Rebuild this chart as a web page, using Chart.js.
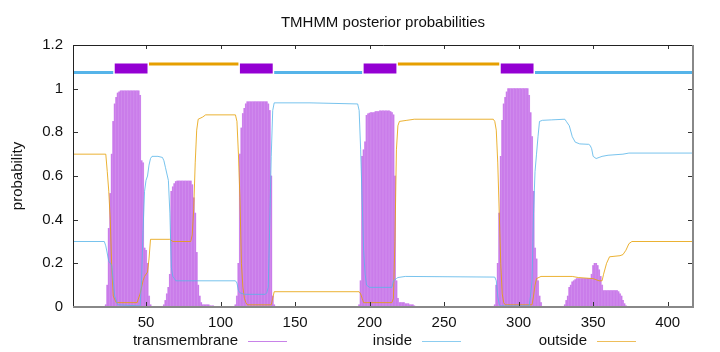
<!DOCTYPE html>
<html>
<head>
<meta charset="utf-8">
<script src="https://cdn.jsdelivr.net/npm/chart.js@4/dist/chart.umd.min.js"></script>
<style>
  body { margin: 0; background: #fff; }
  canvas { display: block; }
</style>
</head>
<body>
<canvas id="tmhmm" width="720" height="352"></canvas>
<script>
// sequence range and ticks
const seqFirst = 1;
const seqLast = 417;
const xTickValues = [50, 100, 150, 200, 250, 300, 350, 400];
const yTickValues = [0, 0.2, 0.4, 0.6, 0.8, 1, 1.2];

const chartTitle = 'TMHMM posterior probabilities';
const legendLabels = ['transmembrane', 'inside', 'outside'];

// transmembrane posterior, one value per residue, grouped by hump (first residue of each group)
const tmStarts = [23, 62, 110, 193, 284, 331];
const tmProbs = [
  [0.01, 0.10, 0.36, 0.52, 0.70, 0.85, 0.93, 0.96, 0.98, 0.985,
   0.99, 0.99, 0.99, 0.99, 0.99, 0.99, 0.99, 0.99, 0.99, 0.99, 0.99, 0.99, 0.99,
   0.97, 0.67, 0.66, 0.27, 0.26, 0.20, 0.05, 0.01],
  [0.01, 0.03, 0.06, 0.09, 0.15, 0.53, 0.55, 0.565, 0.575,
   0.577, 0.577, 0.577, 0.577, 0.577, 0.577, 0.577, 0.577, 0.577, 0.577,
   0.56, 0.50, 0.43, 0.25, 0.10, 0.05, 0.02, 0.01, 0.01, 0.01, 0.01, 0.01, 0.005, 0.005, 0.005],
  [0.01, 0.05, 0.20, 0.70, 0.82, 0.886, 0.91, 0.93,
   0.94, 0.94, 0.94, 0.94, 0.94, 0.94, 0.94, 0.94, 0.94, 0.94, 0.94, 0.94, 0.94, 0.94,
   0.93, 0.90, 0.60, 0.05, 0.01],
  [0.01, 0.12, 0.69, 0.72, 0.756, 0.878, 0.885, 0.888, 0.89, 0.89, 0.89,
   0.895, 0.895, 0.895, 0.898, 0.898, 0.898, 0.898, 0.898, 0.898, 0.898,
   0.895, 0.89, 0.88, 0.60, 0.12, 0.04, 0.02, 0.02, 0.02, 0.02,
   0.015, 0.015, 0.015, 0.01, 0.01, 0.01, 0.005],
  [0.01, 0.10, 0.20, 0.43, 0.69, 0.855, 0.93, 0.96, 0.985,
   1.0, 1.0, 1.0, 1.0, 1.0, 1.0, 1.0, 1.0, 1.0, 1.0, 1.0, 1.0, 1.0, 1.0,
   0.97, 0.89, 0.78, 0.53, 0.27, 0.22, 0.12, 0.05, 0.02],
  [0.01, 0.03, 0.05, 0.09, 0.10, 0.115, 0.12, 0.125,
   0.13, 0.13, 0.13, 0.13, 0.13, 0.13, 0.13, 0.13, 0.13, 0.13,
   0.15, 0.19, 0.20, 0.20, 0.19, 0.17, 0.14, 0.10,
   0.075, 0.075, 0.075, 0.075, 0.075, 0.075, 0.075, 0.075, 0.075, 0.075,
   0.07, 0.06, 0.05, 0.03, 0.015, 0.005]
];

// inside posterior (residue, probability)
const insideRes = [1, 22, 23, 25, 27, 28, 29, 31, 46, 47, 48, 49, 50, 51, 52, 53, 54, 58, 61, 62, 63, 65, 66, 67, 68, 69, 70,
  110, 111, 112, 113, 116, 130, 131, 132, 133, 134, 135, 136, 160, 192, 193, 194, 195, 196, 197, 198, 200, 215, 216, 218, 219, 224,
  284, 285, 286, 287, 288, 307, 308, 309, 310, 311, 312, 313, 314, 316, 322, 331, 332, 334, 336, 338, 341, 347, 348, 349, 350, 352,
  354, 356, 360, 370, 374, 417];
const insideProb = [0.30, 0.30, 0.28, 0.21, 0.19, 0.12, 0.05, 0.01, 0.005, 0.12, 0.35, 0.53, 0.58, 0.60, 0.65, 0.68, 0.69, 0.69, 0.685, 0.67, 0.64, 0.58, 0.43, 0.18, 0.14, 0.13, 0.12,
  0.12, 0.11, 0.076, 0.065, 0.058, 0.058, 0.065, 0.09, 0.38, 0.69, 0.90, 0.935, 0.935, 0.93, 0.90, 0.72, 0.49, 0.26, 0.15, 0.10, 0.09, 0.09, 0.12, 0.13, 0.135, 0.14,
  0.137, 0.12, 0.05, 0.01, 0.005, 0.005, 0.05, 0.12, 0.43, 0.62, 0.70, 0.78, 0.85, 0.855, 0.857, 0.86, 0.85, 0.83, 0.78, 0.755, 0.747, 0.745, 0.74, 0.725, 0.69, 0.68,
  0.685, 0.69, 0.695, 0.70, 0.705, 0.705];

// outside posterior (residue, probability)
const outsideRes = [1, 23, 24, 25, 26, 27, 28, 30, 44, 46, 48, 49, 51, 52, 53, 66, 68, 80, 81, 82, 83, 84, 85, 88, 90,
  110, 111, 112, 113, 114, 115, 116, 117, 118, 134, 135, 136, 193, 194, 195, 196, 215, 216, 217, 218, 219, 220, 225, 230,
  283, 284, 285, 286, 287, 288, 289, 290, 291, 309, 310, 311, 312, 315, 336, 340, 350, 354, 356, 357, 359, 361, 368, 370, 372, 374, 376, 417];
const outsideProb = [0.70, 0.70, 0.62, 0.53, 0.40, 0.18, 0.05, 0.02, 0.02, 0.06, 0.12, 0.14, 0.16, 0.22, 0.31, 0.31, 0.30, 0.30, 0.33, 0.45, 0.66, 0.81, 0.86, 0.87, 0.88,
  0.88, 0.85, 0.70, 0.50, 0.20, 0.09, 0.04, 0.02, 0.01, 0.01, 0.04, 0.07, 0.07, 0.06, 0.04, 0.02, 0.02, 0.04, 0.30, 0.72, 0.83, 0.85, 0.855, 0.86,
  0.86, 0.85, 0.81, 0.66, 0.43, 0.20, 0.06, 0.02, 0.01, 0.01, 0.05, 0.10, 0.13, 0.14, 0.14, 0.135, 0.13, 0.12, 0.12, 0.15, 0.20, 0.23, 0.235, 0.24, 0.26, 0.29, 0.30, 0.30];

// predicted topology (first, last residue)
const topoInside = [[1, 28], [136, 195], [311, 417]];
const topoOutside = [[52, 112], [219, 287]];
const topoHelix = [[29, 51], [113, 135], [196, 218], [288, 310]];
const topoLevels = { inside: 1.074, outside: 1.113, helix: 1.092 };

const purple = '#9400D3';
const blue = '#56B4E9';
const orange = '#E69F00';
const fontFamily = '"Liberation Sans", Arial, sans-serif';

const tmPoints = [];
tmStarts.forEach((start, i) => {
  tmProbs[i].forEach((p, j) => tmPoints.push({ x: start + j, y: p }));
});

function toPoints(xs, ys) {
  return xs.map((x, i) => ({ x: x, y: ys[i] }));
}

function segmentPoints(segs, level) {
  const pts = [];
  segs.forEach(([a, b]) => {
    pts.push({ x: a, y: level }, { x: b, y: level }, { x: b + 0.5, y: null });
  });
  return pts;
}

// frame with inward ticks, title and gnuplot-style legend
const framePlugin = {
  id: 'frame',
  afterDraw(chart) {
    const ctx = chart.ctx;
    const a = chart.chartArea;
    const xs = chart.scales.x;
    const ys = chart.scales.y;
    ctx.save();

    ctx.strokeStyle = '#333';
    ctx.lineWidth = 1;
    ctx.beginPath();
    xTickValues.forEach(v => {
      const px = Math.round(xs.getPixelForValue(v)) + 0.5;
      ctx.moveTo(px, a.bottom); ctx.lineTo(px, a.bottom - 5);
      ctx.moveTo(px, a.top); ctx.lineTo(px, a.top + 4);
    });
    yTickValues.forEach(v => {
      const py = Math.round(ys.getPixelForValue(v)) + 0.5;
      ctx.moveTo(a.left, py); ctx.lineTo(a.left + 5, py);
      ctx.moveTo(a.right, py); ctx.lineTo(a.right - 5, py);
    });
    ctx.stroke();

    ctx.strokeStyle = '#222';
    ctx.beginPath();
    ctx.moveTo(a.left + 0.5, a.bottom);
    ctx.lineTo(a.left + 0.5, a.top + 0.5);
    ctx.lineTo(a.right, a.top + 0.5);
    ctx.stroke();
    ctx.strokeStyle = '#888';
    ctx.lineWidth = 2;
    ctx.beginPath();
    ctx.moveTo(a.right, a.top);
    ctx.lineTo(a.right, a.bottom);
    ctx.lineTo(a.left, a.bottom);
    ctx.stroke();

    ctx.fillStyle = '#111';
    ctx.font = '15px ' + fontFamily;
    ctx.textAlign = 'center';
    ctx.textBaseline = 'middle';
    ctx.fillText(chartTitle, (a.left + a.right) / 2, 23);

    const textRight = [238, 412, 587];
    const colors = ['rgb(200,130,232)', 'rgb(140,205,240)', 'rgb(238,190,90)'];
    ctx.textAlign = 'right';
    legendLabels.forEach((label, i) => {
      ctx.fillStyle = '#111';
      ctx.fillText(label, textRight[i], 341);
      ctx.strokeStyle = colors[i];
      ctx.lineWidth = 1;
      ctx.beginPath();
      ctx.moveTo(textRight[i] + 10, 341.5);
      ctx.lineTo(textRight[i] + 49, 341.5);
      ctx.stroke();
    });
    ctx.restore();
  }
};

new Chart(document.getElementById('tmhmm'), {
  type: 'bar',
  data: {
    datasets: [
      {
        type: 'bar', label: 'transmembrane', data: tmPoints,
        backgroundColor: 'rgb(234,204,248)', borderWidth: 0,
        barPercentage: 1, categoryPercentage: 1, grouped: false, order: 6
      },
      {
        type: 'bar', label: 'transmembrane impulses', data: tmPoints,
        backgroundColor: 'rgb(202,124,234)', borderWidth: 0,
        barThickness: 1, grouped: false, order: 5
      },
      {
        type: 'line', label: 'inside', data: toPoints(insideRes, insideProb),
        borderColor: 'rgba(86,180,233,0.8)', borderWidth: 1, pointRadius: 0, order: 2
      },
      {
        type: 'line', label: 'outside', data: toPoints(outsideRes, outsideProb),
        borderColor: 'rgba(230,159,0,0.8)', borderWidth: 1, pointRadius: 0, order: 3
      },
      {
        type: 'line', label: 'topology inside', data: segmentPoints(topoInside, topoLevels.inside),
        borderColor: blue, borderWidth: 3, pointRadius: 0, spanGaps: false, order: 1
      },
      {
        type: 'line', label: 'topology outside', data: segmentPoints(topoOutside, topoLevels.outside),
        borderColor: orange, borderWidth: 3, pointRadius: 0, spanGaps: false, order: 1
      },
      {
        type: 'line', label: 'topology helix', data: segmentPoints(topoHelix, topoLevels.helix),
        borderColor: purple, borderWidth: 10, pointRadius: 0, spanGaps: false, order: 1
      }
    ]
  },
  options: {
    responsive: false,
    animation: false,
    devicePixelRatio: 1,
    layout: { padding: { left: 0, right: 27, top: 45, bottom: 0 } },
    plugins: {
      legend: { display: false },
      title: { display: false },
      tooltip: { enabled: false }
    },
    scales: {
      x: {
        type: 'linear', min: seqFirst, max: seqLast, offset: false,
        grid: { display: false, drawTicks: false },
        border: { display: false },
        ticks: {
          color: '#111', font: { family: fontFamily, size: 15 }, padding: 7,
          maxRotation: 0, autoSkip: false, callback: v => String(v)
        },
        afterBuildTicks: s => { s.ticks = xTickValues.map(v => ({ value: v })); },
        afterFit: s => { s.height = 45; }
      },
      y: {
        type: 'linear', min: 0, max: 1.2,
        grid: { display: false, drawTicks: false },
        border: { display: false },
        ticks: {
          color: '#111', font: { family: fontFamily, size: 15 }, padding: 10,
          callback: v => String(v)
        },
        title: {
          display: true, text: 'probability', color: '#111',
          font: { family: fontFamily, size: 15 }, padding: { top: 9, bottom: 0 }
        },
        afterBuildTicks: s => { s.ticks = yTickValues.map(v => ({ value: v })); },
        afterFit: s => { s.width = 73; }
      }
    }
  },
  plugins: [framePlugin]
});
</script>
</body>
</html>
